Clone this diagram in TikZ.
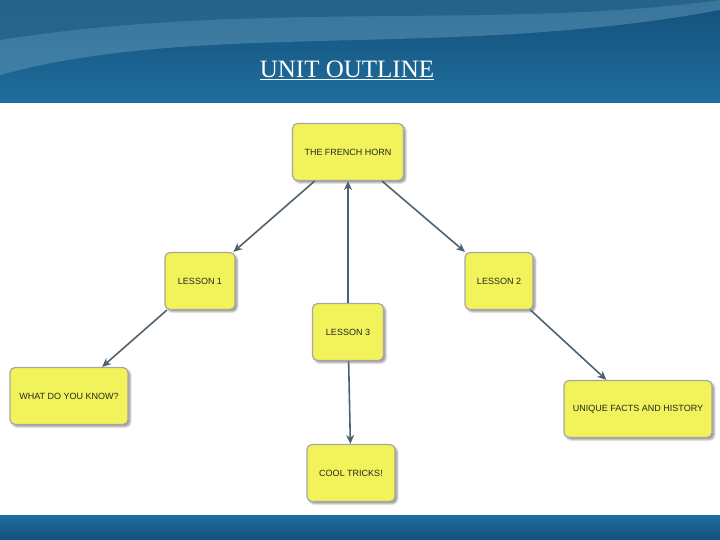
\documentclass[tikz,border=0pt]{standalone}
\usepackage{fontspec}
\setmainfont{Liberation Serif}
\newfontfamily\boxfont{Liberation Sans}
\usetikzlibrary{positioning,shadows.blur,arrows.meta}
\definecolor{bandblue}{HTML}{1F6E9E}
\definecolor{banddark}{HTML}{14507A}
\definecolor{boxyellow}{HTML}{F2F25A}
\definecolor{arrowgray}{HTML}{4F6272}
\tikzset{
  topic/.style = {draw=gray!70, line width=1.2pt, rounded corners=5pt, fill=boxyellow,
    blur shadow={shadow blur steps=5}, minimum height=57pt, inner sep=4pt,
    font=\boxfont\fontsize{9}{10}\selectfont, text=black!85},
  link/.style = {-{Stealth[length=9pt,width=8pt]}, draw=arrowgray, line width=1.6pt}
}
\begin{document}
\begin{tikzpicture}[x=1pt, y=-1pt]
    \useasboundingbox (0,0) rectangle (720,540);
    % header and footer bands
    \fill[top color=banddark, bottom color=bandblue] (0,0) rectangle (720,103);
    \fill[bandblue!70!white, opacity=0.5] (0,75) .. controls (200,20) and (450,60) .. (720,10) -- (720,0) -- (0,0) -- cycle;
    \fill[banddark, opacity=0.5] (0,40) .. controls (250,0) and (500,30) .. (720,0) -- (0,0) -- cycle;
    \fill[top color=bandblue, bottom color=banddark] (0,515) rectangle (720,540);
    \node[text=white, font=\fontsize{25}{28}\selectfont] (title) at (347,70) {\underline{UNIT OUTLINE}};

    \node[topic, minimum width=111pt] (horn) at (348,152) {THE FRENCH HORN};
    \node[topic, minimum width=70pt] (l1) at (200,281) {LESSON 1};
    \node[topic, minimum width=68pt] (l2) at (499,281) {LESSON 2};
    \node[topic, minimum width=71pt] (l3) at (348,332) {LESSON 3};
    \node[topic, minimum width=118pt] (know) at (69,396) {WHAT DO YOU KNOW?};
    \node[topic, minimum width=88pt] (cool) at (351,473) {COOL TRICKS!};
    \node[topic, minimum width=148pt] (facts) at (638,409) {UNIQUE FACTS AND HISTORY};

    \draw[link] (horn) -- (l1);
    \draw[link] (horn) -- (l2);
    \draw[link] (l3) -- (horn);
    \draw[link] (l1) -- (know);
    \draw[link] (l2) -- (facts);
    \draw[link] (l3) -- (cool);
\end{tikzpicture}
\end{document}
